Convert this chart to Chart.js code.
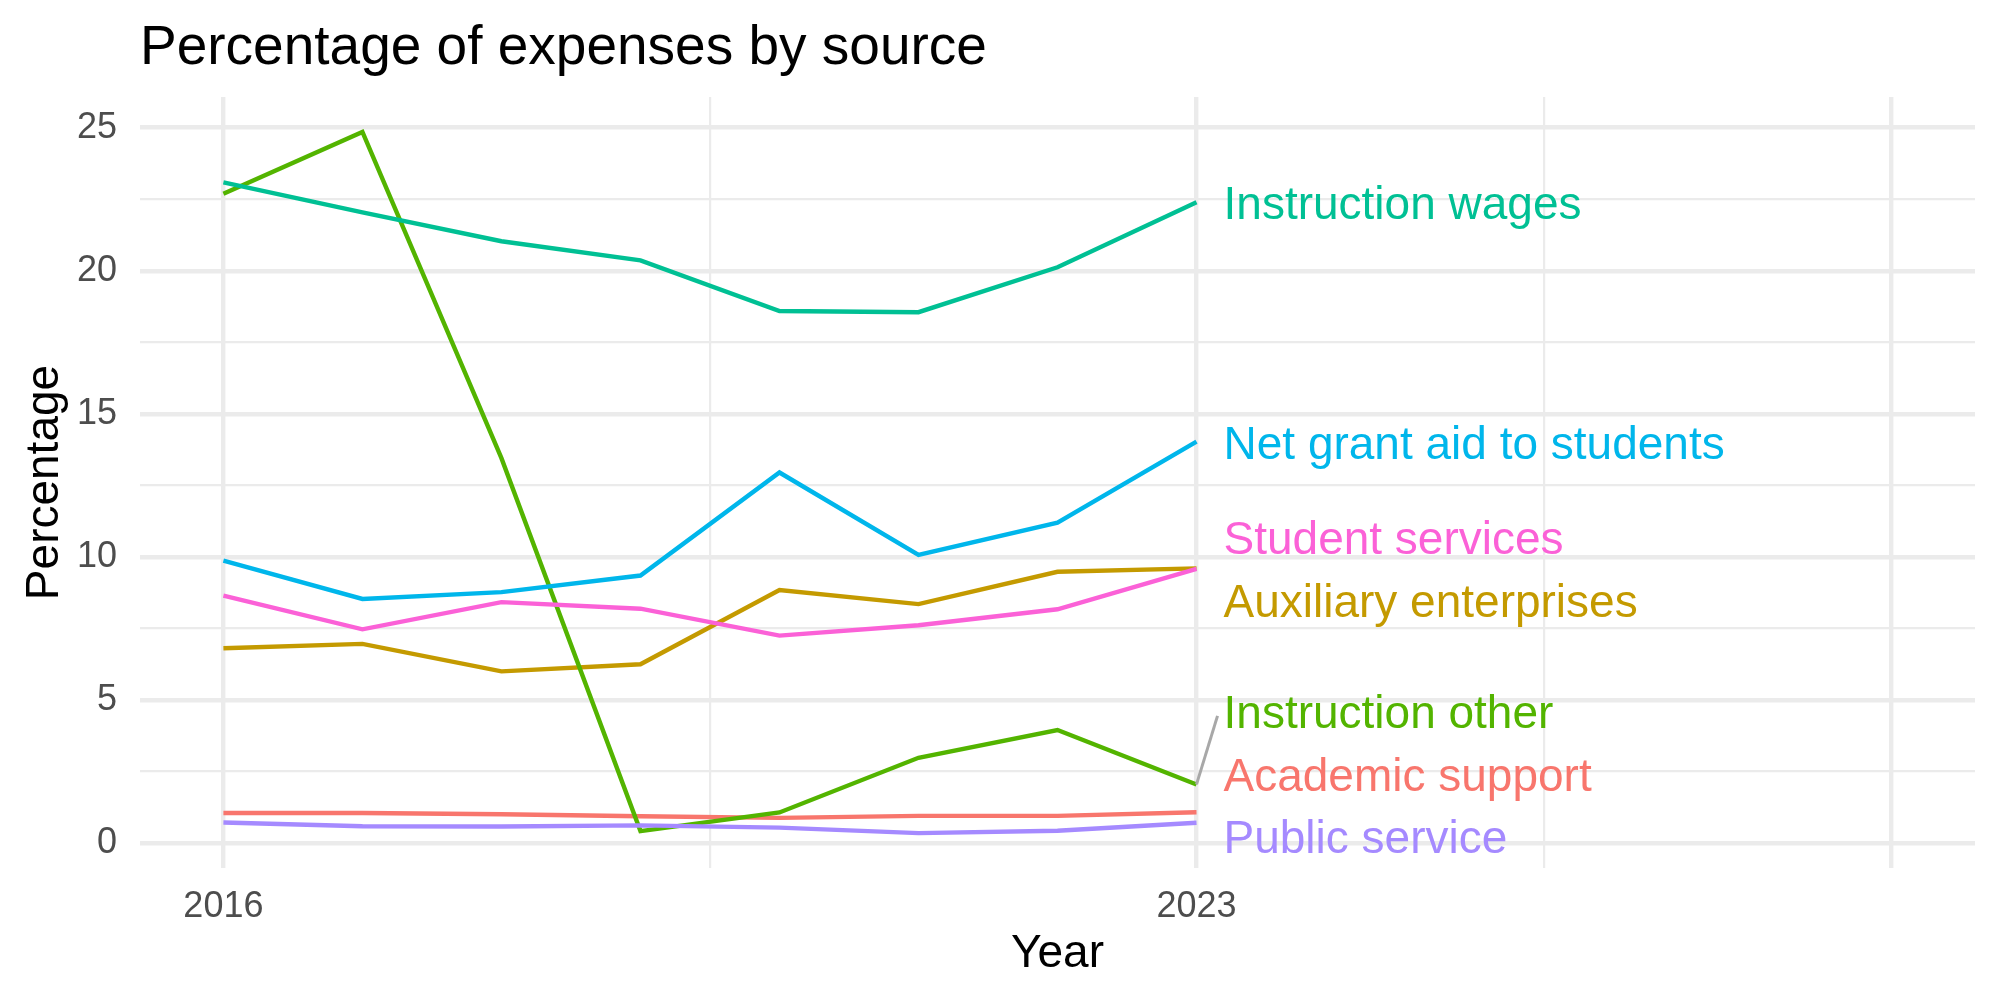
<!DOCTYPE html>
<html>
<head>
<meta charset="utf-8">
<script src="https://cdn.jsdelivr.net/npm/chart.js@4.4.1/dist/chart.umd.min.js"></script>
<style>
  html, body { margin: 0; padding: 0; background: #ffffff; }
</style>
</head>
<body>
<canvas id="main-chart" width="2000" height="1000"></canvas>
<script>
// values
const years = [2016, 2017, 2018, 2019, 2020, 2021, 2022, 2023];
const academicSupport = [1.05, 1.05, 1.01, 0.94, 0.88, 0.95, 0.95, 1.08];
const auxiliaryEnterprises = [6.81, 6.96, 6.00, 6.25, 8.84, 8.35, 9.48, 9.60];
const instructionOther = [22.69, 24.85, 13.45, 0.42, 1.07, 2.98, 3.95, 2.05];
const instructionWages = [23.09, 22.04, 21.03, 20.36, 18.59, 18.55, 20.12, 22.39];
const netGrantAid = [9.87, 8.53, 8.77, 9.35, 12.95, 10.07, 11.20, 14.03];
const publicService = [0.72, 0.59, 0.58, 0.62, 0.54, 0.35, 0.43, 0.71];
const studentServices = [8.65, 7.47, 8.42, 8.19, 7.25, 7.61, 8.17, 9.58];

const seriesNames = ["Academic support", "Auxiliary enterprises", "Instruction other",
    "Instruction wages", "Net grant aid to students", "Public service", "Student services"];
const xTickLabels = ["2016", "2023"];
const yTickLabels = ["0", "5", "10", "15", "20", "25"];

// where the end labels sit (y, in percent) after being pushed apart
const labelY = [2.40, 8.47, 4.62, 22.38, 14.01, 0.24, 10.68];

const colors = ["#F8766D", "#C49A00", "#53B400", "#00C094", "#00B6EB", "#A58AFF", "#FB61D7"];
const allSeries = [academicSupport, auxiliaryEnterprises, instructionOther, instructionWages,
    netGrantAid, publicService, studentServices];

const xMajor = [2016, 2023, 2028];
const xGrid = [2016, 2019.5, 2023, 2025.5, 2028];
var yGrid = [];
for (var v = 0; v <= 25; v += 2.5) {
    yGrid.push(v);
}

const FONT = '"Liberation Sans", Arial, sans-serif';

const titlePlugin = {
    id: 'plotTitle',
    afterDraw: (chart) => {
        const ctx = chart.ctx;
        ctx.save();
        ctx.font = '55px ' + FONT;
        ctx.fillStyle = '#000000';
        ctx.textBaseline = 'middle';
        ctx.textAlign = 'left';
        ctx.fillText("Percentage of expenses by source", chart.chartArea.left, 49);
        ctx.restore();
    }
};

const endLabels = {
    id: 'endLabels',
    afterDatasetsDraw: (chart) => {
        const ctx = chart.ctx;
        const xs = chart.scales.x;
        const ys = chart.scales.y;
        const xEnd = xs.getPixelForValue(years[years.length - 1]);
        ctx.save();
        ctx.font = '46px ' + FONT;
        ctx.textBaseline = 'middle';
        ctx.textAlign = 'left';
        for (var i = 0; i < seriesNames.length; i++) {
            const series = allSeries[i];
            const yEnd = ys.getPixelForValue(series[series.length - 1]);
            const yLab = ys.getPixelForValue(labelY[i]);
            if (Math.abs(yLab - yEnd) > 50) {
                ctx.strokeStyle = '#A8A8A8';
                ctx.lineWidth = 3;
                ctx.beginPath();
                ctx.moveTo(xEnd, yEnd);
                ctx.lineTo(xEnd + 21, yLab + 5);
                ctx.stroke();
            }
            ctx.fillStyle = colors[i];
            ctx.fillText(seriesNames[i], xEnd + 27, yLab + 4);
        }
        ctx.restore();
    }
};

const displayChart = () => {
    const mainChart = document.getElementById("main-chart").getContext("2d");
    var datasets = [];
    seriesNames.forEach((name, i) => {
        datasets.push({
            label: name,
            data: years.map((yr, j) => ({ x: yr, y: allSeries[i][j] })),
            borderColor: colors[i],
            backgroundColor: colors[i],
            borderWidth: 4.4,
            pointRadius: 0,
            tension: 0,
            fill: false,
            order: seriesNames.length - i
        });
    });

    new Chart(mainChart, {
        type: 'line',
        data: { datasets: datasets },
        plugins: [titlePlugin, endLabels],
        options: {
            responsive: false,
            animation: false,
            devicePixelRatio: 1,
            layout: { padding: { top: 97, right: 25, left: 0, bottom: 0 } },
            plugins: {
                legend: { display: false },
                title: { display: false },
                tooltip: { enabled: false }
            },
            scales: {
                x: {
                    type: 'linear',
                    min: 2015.4,
                    max: 2028.6,
                    afterBuildTicks: (scale) => {
                        scale.ticks = xGrid.map(val => ({ value: val }));
                    },
                    afterFit: (scale) => {
                        scale.height = 132;
                    },
                    grid: {
                        color: '#EBEBEB',
                        drawTicks: false,
                        lineWidth: (c) => (c.tick && xMajor.includes(c.tick.value)) ? 4.4 : 2.2
                    },
                    border: { display: false },
                    ticks: {
                        autoSkip: false,
                        maxRotation: 0,
                        padding: 17,
                        color: '#4D4D4D',
                        font: { family: FONT, size: 36 },
                        callback: (val) => xTickLabels.includes(String(val)) ? String(val) : ''
                    },
                    title: {
                        display: true,
                        text: 'Year',
                        color: '#000000',
                        font: { family: FONT, size: 46, lineHeight: 1.2 },
                        padding: { top: 0, bottom: 18 }
                    }
                },
                y: {
                    type: 'linear',
                    min: -0.87,
                    max: 26.07,
                    afterBuildTicks: (scale) => {
                        scale.ticks = yGrid.map(val => ({ value: val }));
                    },
                    afterFit: (scale) => {
                        scale.width = 140;
                    },
                    grid: {
                        color: '#EBEBEB',
                        drawTicks: false,
                        lineWidth: (c) => (c.tick && c.tick.value % 5 === 0) ? 4.4 : 2.2
                    },
                    border: { display: false },
                    ticks: {
                        autoSkip: false,
                        padding: 23,
                        color: '#4D4D4D',
                        font: { family: FONT, size: 36 },
                        callback: (val) => yTickLabels.includes(String(val)) ? String(val) : ''
                    },
                    title: {
                        display: true,
                        text: 'Percentage',
                        color: '#000000',
                        font: { family: FONT, size: 46, lineHeight: 1.2 },
                        padding: { top: 18, bottom: 0 }
                    }
                }
            }
        }
    });
};
displayChart();
</script>
</body>
</html>
